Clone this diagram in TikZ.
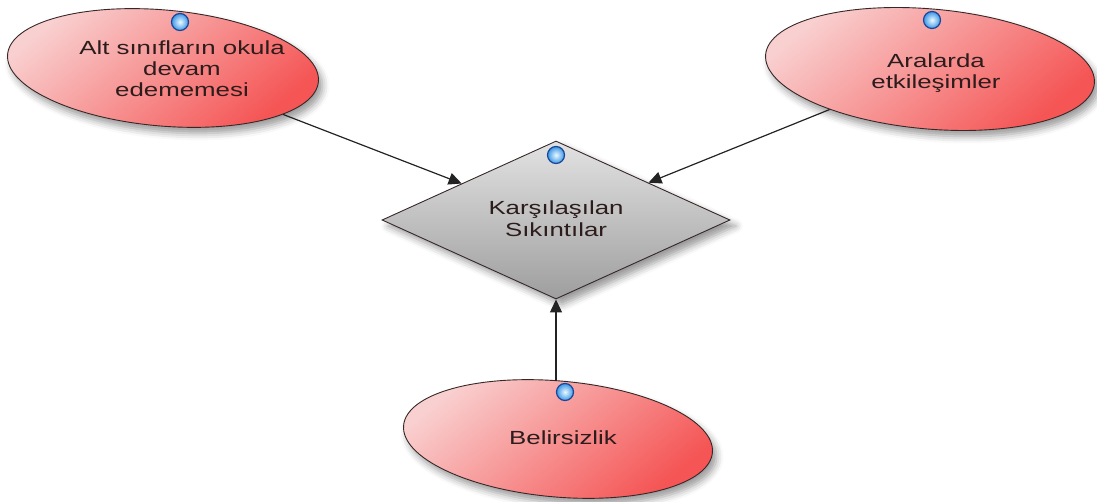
\documentclass[tikz,border=0pt]{standalone}
\usepackage{fontspec}
\setmainfont{Liberation Sans}[FakeStretch=1.36]
\usetikzlibrary{shapes.geometric,arrows.meta,shadows.blur}

\definecolor{inkc}{RGB}{45,28,28}
\definecolor{edgec}{RGB}{55,40,40}
\definecolor{pinkl}{RGB}{249,208,208}
\definecolor{pinkd}{RGB}{245,85,85}
\definecolor{grayl}{RGB}{226,226,226}
\definecolor{grayd}{RGB}{158,158,158}
\definecolor{linec}{RGB}{35,35,35}
\definecolor{portin}{RGB}{235,250,255}
\definecolor{portout}{RGB}{60,150,230}
\definecolor{portd}{RGB}{25,70,150}

\tikzset{
  bubble/.style={ellipse, draw=edgec, line width=0.9pt,
    top color=pinkl, bottom color=pinkd, shading angle=40, inner sep=0pt,
    blur shadow={shadow xshift=4pt, shadow yshift=-6pt,
      shadow blur radius=7pt, shadow opacity=40}},
  choice/.style={diamond, draw=edgec, line width=0.9pt, inner sep=0pt,
    top color=grayl, bottom color=grayd,
    blur shadow={shadow xshift=6pt, shadow yshift=-6pt,
      shadow blur radius=7pt, shadow opacity=40}},
  caption/.style={text=inkc, font=\fontsize{19pt}{21pt}\selectfont,
    align=center, inner sep=0pt},
  port/.style={circle, minimum size=17pt, inner sep=0pt, shading=radial,
    inner color=portin, outer color=portout, draw=portd, line width=1.2pt},
  link/.style={draw=linec, line width=1.2pt,
    -{Triangle[length=13pt,width=12pt]}}
}

\begin{document}
\begin{tikzpicture}[x=1pt,y=-1pt]
\useasboundingbox (0,0) rectangle (1097,502);

% shapes
\node[bubble, minimum width=312pt, minimum height=116pt, rotate=-5] (l) at (163,68) {};
\node[bubble, minimum width=330pt, minimum height=120pt, rotate=-5] (r) at (930,69) {};
\node[bubble, minimum width=310pt, minimum height=116pt, rotate=-5] (b) at (558,439) {};
\node[choice, minimum width=348pt, minimum height=158pt] (d) at (556,220) {};

% labels
\node[caption] (lt) at (182,69) {Alt sınıfların okula\\devam\\edememesi};
\node[caption] (rt) at (936,73) {Aralarda\\etkileşimler};
\node[caption] (bt) at (563,438) {Belirsizlik};
\node[caption, font=\fontsize{19pt}{22pt}\selectfont] (dt) at (556,219) {Karşılaşılan\\Sıkıntılar};

% connectors
\draw[link] (l) -- (d);
\draw[link] (r) -- (d);
\draw[link] (b.north -| d.south) -- (d.south);

% connection ports
\node[port] (lp) at (180,22) {};
\node[port] (rp) at (932,20) {};
\node[port] (dp) at (556,155) {};
\node[port] (bp) at (565,392) {};
\end{tikzpicture}
\end{document}
